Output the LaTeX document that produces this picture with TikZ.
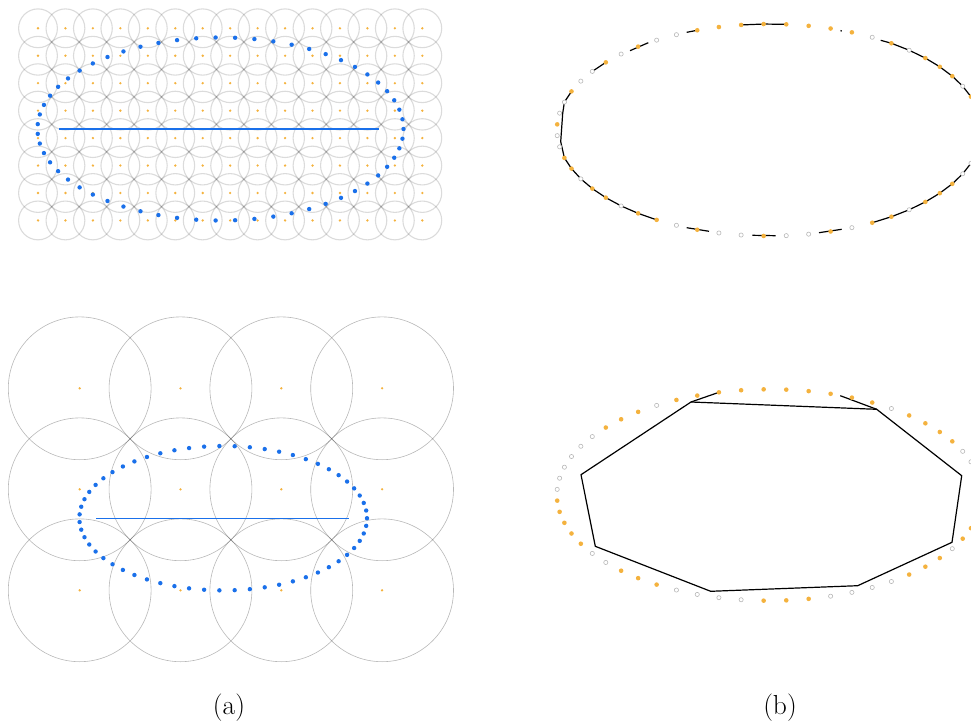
\documentclass[tikz,border=0pt]{standalone}
\definecolor{dotorange}{RGB}{244,178,62}
\definecolor{dotblue}{RGB}{26,112,234}
\tikzset{
 gridcircA/.style={draw=black, draw opacity=0.14, line width=1.1pt},
 gridcircB/.style={draw=black, draw opacity=0.28, line width=0.6pt},
 gdot/.style={fill=dotorange},
 bdot/.style={fill=dotblue},
 odot/.style={fill=dotorange},
 hdot/.style={draw=black!28, fill=white, line width=0.6pt},
 contour/.style={draw=black, line width=1.2pt, line join=round},
 bline/.style={draw=dotblue, line width=1.3pt},
 lab/.style={font=\fontsize{27.5}{32}\selectfont, inner sep=0pt}
}
\begin{document}
\begin{tikzpicture}[x=1pt,y=-1pt]
\useasboundingbox (0,0) rectangle (971,722);
\clip (0,0) rectangle (971,722);
% ---------- top-left ----------
\foreach \i in {0,...,14} {
  \foreach \j in {0,...,7} {
    \path[gridcircA] ({38+27.45*\i},{28.3+27.45*\j}) circle[radius=19.4pt];
  }
}
\foreach \i in {0,...,14} {
  \foreach \j in {0,...,7} {
    \fill[gdot] ({38+27.45*\i},{28.3+27.45*\j}) circle[radius=1.3pt];
  }
}
\draw[bline] (59.3,129) -- (379.3,129);
\foreach \k in {0,...,58} {
  \pgfmathsetmacro{\tt}{6.101695*\k}
  \fill[bdot] ({220.5+183*cos(\tt)},{129-91.5*sin(\tt)}) circle[radius=2.2pt];
}
% ---------- bottom-left ----------
\foreach \i in {0,...,3} {
  \foreach \j in {0,...,2} {
    \path[gridcircB] ({79.7+100.8*\i},{388.3+101*\j}) circle[radius=71.4pt];
  }
}
\foreach \i in {0,...,3} {
  \foreach \j in {0,...,2} {
    \fill[gdot] ({79.7+100.8*\i},{388.3+101*\j}) circle[radius=1.3pt];
  }
}
\draw[bline] (96.3,518.3) -- (349,518.3);
\foreach \k in {0,...,58} {
  \pgfmathsetmacro{\tt}{6.101695*\k}
  \fill[bdot] ({223.2+143.8*cos(\tt)},{518.2-72.2*sin(\tt)}) circle[radius=2.2pt];
}
% ---------- right panels: ellipse sample points ----------
\foreach \k in {0,...,58} {
  \pgfmathsetmacro{\tt}{6.101695*\k}
  \coordinate (T\k) at ({769.3+212.4*cos(\tt)},{130-106*sin(\tt)});
  \coordinate (B\k) at ({769.3+212.4*cos(\tt)},{495-105.7*sin(\tt)});
}
% top-right contour pieces
\coordinate (a0) at (880.7,40.3);
\draw[contour] (a0) -- (T9) -- (T8) -- (T7) -- (T6) -- (T5) -- (T4) -- (T3) -- (T2) -- (T1) -- (T0)
  -- (T58) -- (T57) -- (T56) -- (T55) -- (T54) -- (T53) -- (T52) -- (T51) -- (T50) -- (T49);
\draw[contour] (T16) -- (T15) -- (T14);
\coordinate (c0) at (686.7,32.3);
\draw[contour] (c0) -- (T18);
\coordinate (d0) at (630,50.7);
\coordinate (d1) at (648.3,42.7);
\draw[contour] (d0) -- (d1);
\draw[contour] (T24) -- (T23);
\coordinate (f0) at (562.7,113.3);
\coordinate (f1) at (560.7,141.7);
\draw[contour] (T26) -- (T27) -- (f0) -- (f1) -- (T32) -- (T33) -- (T34) -- (T35) -- (T36) -- (T37) -- (T38) -- (T39);
\coordinate (g0) at (686.7,227.7);
\coordinate (g1) at (709,231.3);
\draw[contour] (g0) -- (g1);
\coordinate (h0) at (752.3,235.3);
\coordinate (h1) at (775.7,235.7);
\draw[contour] (h0) -- (h1);
\coordinate (i0) at (819,232.7);
\coordinate (i1) at (841.7,229.3);
\draw[contour] (i0) -- (i1);
\coordinate (j0) at (840.5,30.5);
\coordinate (j1) at (841.7,31.1);
\draw[contour] (j0) -- (j1);
% top-right dots
\foreach \k in {3,5,6,7,9,11,12,13,14,15,16,17,18,21,23,26,29,32,33,35,36,38,39,41,44,47,49,50,52,53,54} {
  \fill[odot] (T\k) circle[radius=2.3pt];
}
\foreach \k in {4,8,10,19,20,22,24,25,27,28,30,31,34,37,40,42,43,45,46,48,51,55,56} {
  \path[hdot] (T\k) circle[radius=2.1pt];
}
% bottom-right polygon
\coordinate (P1) at (691,402);
\coordinate (P2) at (876.7,409.3);
\coordinate (P3) at (961.7,475.7);
\coordinate (P4) at (952,542.3);
\coordinate (P5) at (857.7,585.7);
\coordinate (P6) at (710.7,591.3);
\coordinate (P7) at (595.3,546.3);
\coordinate (P8) at (581,474.7);
\coordinate (S1) at (840.3,395.7);
\draw[contour] (P1) -- (P2) -- (P3) -- (P4) -- (P5) -- (P6) -- (P7) -- (P8) -- cycle;
\draw[contour] (P1) -- (B17);
\draw[contour] (P2) -- (S1);
% bottom-right dots
\foreach \k in {5,6,7,8,10,11,12,13,14,15,16,17,18,19,21,22,23,30,31,32,33,34,37,38,39,44,45,46,51,52,53,55,56} {
  \fill[odot] (B\k) circle[radius=2.3pt];
}
\foreach \k in {3,4,9,20,24,25,26,27,28,29,35,36,40,41,42,43,47,48,49,50,54} {
  \path[hdot] (B\k) circle[radius=2.1pt];
}
% labels
\node[lab] (la) at (229,708) {(a)};
\node[lab] (lb) at (780,708) {(b)};
\end{tikzpicture}
\end{document}
